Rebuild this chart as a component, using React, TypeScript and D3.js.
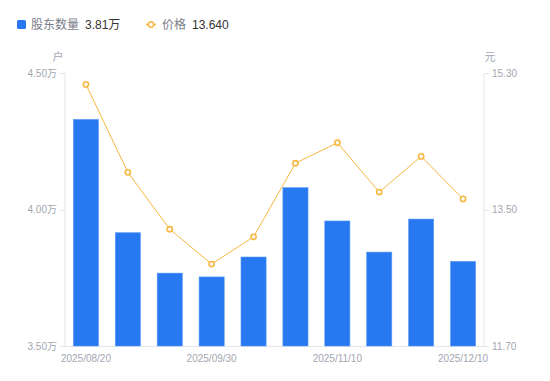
import React from "react";
import * as d3 from "d3";

const dates = ["2025/08/20", "2025/08/31", "2025/09/19", "2025/09/30", "2025/10/20", "2025/10/31", "2025/11/10", "2025/11/20", "2025/11/30", "2025/12/10"];
const holders = [4.33, 3.915, 3.767, 3.753, 3.826, 4.08, 3.958, 3.844, 3.965, 3.81];
const prices = [15.15, 13.99, 13.24, 12.78, 13.14, 14.11, 14.38, 13.73, 14.2, 13.64];
const leftTicks = [3.5, 4.0, 4.5];
const rightTicks = [11.7, 13.5, 15.3];
const shownDates = ["2025/08/20", "2025/09/30", "2025/11/10", "2025/12/10"];

const W = 550, H = 381;
const L = 65, R = 484, T = 73, B = 346;
const BLUE = "#2878f2";
const ORANGE = "#f7b740";
const TICK = "#a3a6b2";
const AXIS = "#e4e6eb";
const FONT = "'Liberation Sans', Arial, 'Noto Sans CJK SC', sans-serif";

export default function App() {
  const x = d3.scaleBand<string>().domain(dates).range([L, R]).paddingInner(0.4).paddingOuter(0.2);
  const yL = d3.scaleLinear().domain([3.5, 4.5]).range([B, T]);
  const yR = d3.scaleLinear().domain([11.7, 15.3]).range([B, T]);
  const cx = (d: string) => (x(d) as number) + x.bandwidth() / 2;
  const line = d3.line<number>().x((_, i) => cx(dates[i])).y((v) => yR(v));

  return (
    <svg width={W} height={H} style={{ position: "absolute", left: 0, top: 0, fontFamily: FONT }}>
      <rect width={W} height={H} fill="#fff" />
      {/* legend */}
      <rect x={17} y={20} width={9} height={9} rx={1.5} fill={BLUE} />
      <text x={31} y={29} fontSize={12} fill="#7a7d87">股东数量</text>
      <text x={85} y={29} fontSize={12} fill="#333">3.81万</text>
      <line x1={146} x2={156} y1={24.5} y2={24.5} stroke={ORANGE} strokeWidth={1.5} />
      <circle cx={151} cy={24.5} r={2.7} fill="#fff" stroke={ORANGE} strokeWidth={1.6} />
      <text x={162} y={29} fontSize={12} fill="#7a7d87">价格</text>
      <text x={192} y={29} fontSize={12} fill="#333">13.640</text>

      {/* axis units */}
      <text x={58} y={61} fontSize={11} fill={TICK} textAnchor="middle">户</text>
      <text x={490} y={61} fontSize={11} fill={TICK} textAnchor="middle">元</text>

      {/* axes */}
      <line x1={L} x2={L} y1={T} y2={B} stroke={AXIS} />
      <line x1={R} x2={R} y1={T} y2={B} stroke={AXIS} />
      <line x1={L} x2={R} y1={B + 0.5} y2={B + 0.5} stroke={AXIS} />
      {leftTicks.map((t) => (
        <g key={"l" + t}>
          <line x1={L - 5} x2={L} y1={Math.round(yL(t)) + 0.5} y2={Math.round(yL(t)) + 0.5} stroke={AXIS} />
          <text x={57} y={yL(t) + 3.5} fontSize={10} fill={TICK} textAnchor="end">{t.toFixed(2)}万</text>
        </g>
      ))}
      {rightTicks.map((t) => (
        <g key={"r" + t}>
          <line x1={R} x2={R + 5} y1={Math.round(yR(t)) + 0.5} y2={Math.round(yR(t)) + 0.5} stroke={AXIS} />
          <text x={492} y={yR(t) + 3.5} fontSize={10} fill={TICK} textAnchor="start">{t.toFixed(2)}</text>
        </g>
      ))}
      {shownDates.map((d) => (
        <text key={d} x={cx(d)} y={362} fontSize={10} fill={TICK} textAnchor="middle">{d}</text>
      ))}

      {/* bars */}
      {holders.map((v, i) => (
        <rect key={i} x={x(dates[i])} y={yL(v)} width={x.bandwidth()} height={B - yL(v)} fill={BLUE} stroke="#5c9bf6" strokeWidth={0.6} />
      ))}

      {/* price line */}
      <path d={line(prices) || ""} fill="none" stroke={ORANGE} strokeWidth={1} />
      {prices.map((v, i) => (
        <circle key={i} cx={cx(dates[i])} cy={yR(v)} r={2.6} fill="#fff" stroke={ORANGE} strokeWidth={1.6} />
      ))}
    </svg>
  );
}
